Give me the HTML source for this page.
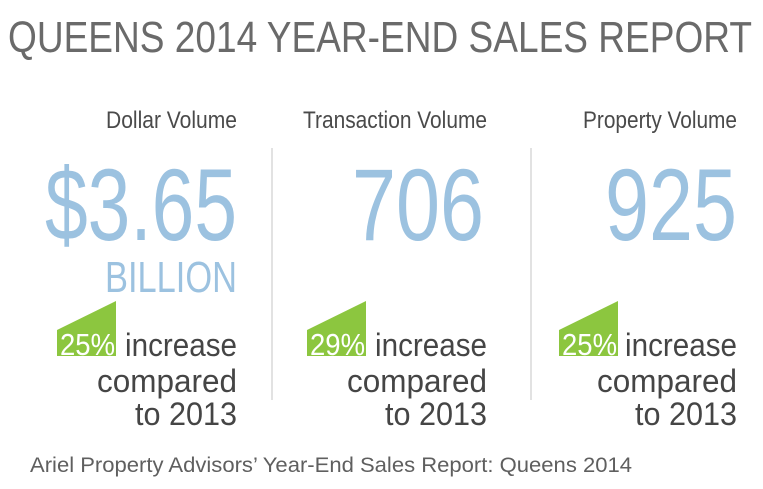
<!DOCTYPE html>
<html><head><meta charset="utf-8"><style>
html,body{margin:0;padding:0;background:#fff;}
svg{display:block;}
text{font-family:"Liberation Sans",sans-serif;}
</style></head><body>
<svg width="763" height="489" viewBox="0 0 763 489" xmlns="http://www.w3.org/2000/svg">
<text x="8" y="52" font-size="44" fill="#6a6a6a" textLength="744" lengthAdjust="spacingAndGlyphs">QUEENS 2014 YEAR-END SALES REPORT</text>

<line x1="272" y1="148" x2="272" y2="400" stroke="#d8d8d8" stroke-width="1.5"/>
<line x1="531" y1="148" x2="531" y2="400" stroke="#d8d8d8" stroke-width="1.5"/>

<g fill="#4a4a4a" font-size="24">
<text x="106" y="128" textLength="131" lengthAdjust="spacingAndGlyphs">Dollar Volume</text>
<text x="303" y="128" textLength="184" lengthAdjust="spacingAndGlyphs">Transaction Volume</text>
<text x="583" y="128" textLength="154" lengthAdjust="spacingAndGlyphs">Property Volume</text>
</g>

<g fill="#9cc2e0" font-size="102">
<text x="45" y="240" textLength="192" lengthAdjust="spacingAndGlyphs">$3.65</text>
<text x="352" y="240" textLength="132" lengthAdjust="spacingAndGlyphs">706</text>
<text x="605" y="240" textLength="132" lengthAdjust="spacingAndGlyphs">925</text>
<text x="105" y="292" font-size="44" textLength="132" lengthAdjust="spacingAndGlyphs">BILLION</text>
</g>

<g>
<polygon points="57,330 116,301 116,356 57,356" fill="#8cc63f"/>
<polygon points="307,330 366,301 366,356 307,356" fill="#8cc63f"/>
<polygon points="559,330 618,301 618,356 559,356" fill="#8cc63f"/>
<g fill="#fff" font-size="31">
<text x="60" y="355" textLength="55" lengthAdjust="spacingAndGlyphs">25%</text>
<text x="310" y="355" textLength="55" lengthAdjust="spacingAndGlyphs">29%</text>
<text x="562" y="355" textLength="55" lengthAdjust="spacingAndGlyphs">25%</text>
</g>
</g>

<g fill="#454545" font-size="32">
<text x="125" y="356" textLength="112" lengthAdjust="spacingAndGlyphs">increase</text>
<text x="97" y="392" textLength="140" lengthAdjust="spacingAndGlyphs">compared</text>
<text x="135" y="425" textLength="102" lengthAdjust="spacingAndGlyphs">to 2013</text>
<text x="375" y="356" textLength="112" lengthAdjust="spacingAndGlyphs">increase</text>
<text x="347" y="392" textLength="140" lengthAdjust="spacingAndGlyphs">compared</text>
<text x="385" y="425" textLength="102" lengthAdjust="spacingAndGlyphs">to 2013</text>
<text x="625" y="356" textLength="112" lengthAdjust="spacingAndGlyphs">increase</text>
<text x="597" y="392" textLength="140" lengthAdjust="spacingAndGlyphs">compared</text>
<text x="635" y="425" textLength="102" lengthAdjust="spacingAndGlyphs">to 2013</text>
</g>

<text x="30" y="472" font-size="21" fill="#5f5f5f" textLength="602" lengthAdjust="spacingAndGlyphs">Ariel Property Advisors’ Year-End Sales Report: Queens 2014</text>
</svg>
</body></html>
